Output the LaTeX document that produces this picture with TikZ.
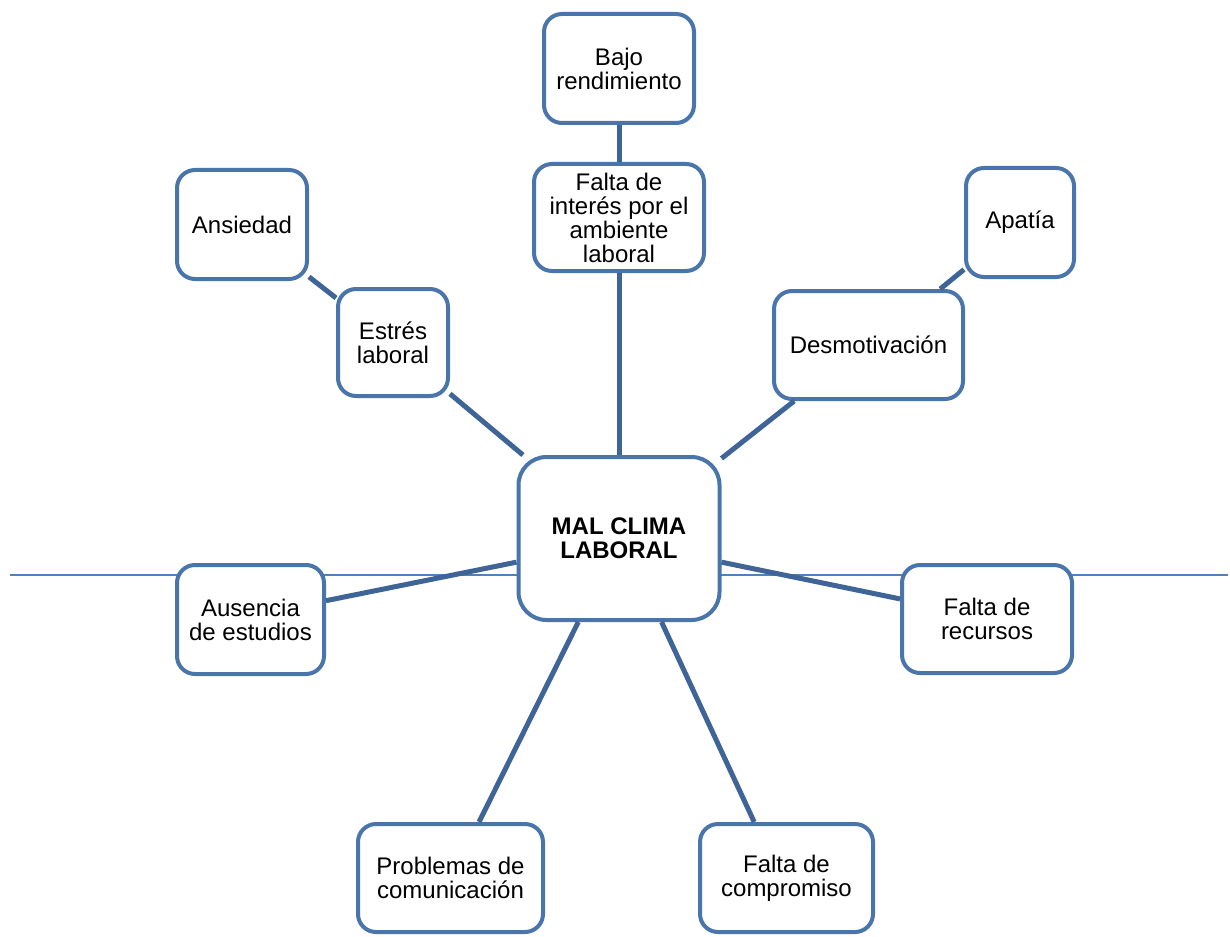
\documentclass[tikz,border=0pt]{standalone}
\usepackage{fontspec}
\setmainfont{Liberation Sans}
\usepackage{tikz}
\definecolor{boxblue}{RGB}{73,117,171}
\definecolor{linkblue}{RGB}{62,100,152}
\definecolor{axisblue}{RGB}{79,129,189}
\tikzstyle{box} = [draw=boxblue, line width=4pt, fill=white, rounded corners=18pt, inner sep=0pt, align=center, font=\fontsize{24}{24}\selectfont]
\tikzstyle{core} = [box, rounded corners=28pt, font=\fontsize{24}{24}\selectfont\bfseries]
\tikzstyle{link} = [draw=linkblue, line width=5pt]

\begin{document}
\begin{tikzpicture}[x=1pt, y=-1pt]
\useasboundingbox (0,0) rectangle (1230,936);

\draw[axisblue, line width=1.5pt] (10,575) -- (1228,575);

\node [core, minimum width=201pt, minimum height=163pt] (mal) at (619,538.5) {MAL CLIMA\\LABORAL};

\node [box, minimum width=150pt, minimum height=109pt] (bajo) at (619,68.5) {Bajo\\rendimiento};
\node [box, minimum width=170pt, minimum height=107pt] (interes) at (619,217.5) {Falta de\\interés por el\\ambiente\\laboral};
\node [box, minimum width=130pt, minimum height=109pt] (ansiedad) at (242,224.5) {Ansiedad};
\node [box, minimum width=110pt, minimum height=107pt] (estres) at (393,342.5) {Estrés\\laboral};
\node [box, minimum width=108pt, minimum height=109pt] (apatia) at (1020,222.5) {Apatía};
\node [box, minimum width=189pt, minimum height=108pt] (desmot) at (868.5,345) {Desmotivación};
\node [box, minimum width=147pt, minimum height=109pt] (ausencia) at (250.5,619.5) {Ausencia\\de estudios};
\node [box, minimum width=170pt, minimum height=108pt] (recursos) at (987,619) {Falta de\\recursos};
\node [box, minimum width=185pt, minimum height=108pt] (problemas) at (450.5,878) {Problemas de\\comunicación};
\node [box, minimum width=173pt, minimum height=108pt] (compromiso) at (786.5,878) {Falta de\\compromiso};

\foreach \a/\b in {bajo.south/interes.north, interes.south/mal.north,
                   ansiedad.-38/estres.142, estres.-42/mal.139,
                   apatia.220/desmot.38, desmot.217/mal.38,
                   mal.193/ausencia.14, mal.-13/recursos.167,
                   mal.-116/problemas.63, mal.-63/compromiso.120}{
  \draw[link] (\a) -- (\b);
}

\end{tikzpicture}
\end{document}
